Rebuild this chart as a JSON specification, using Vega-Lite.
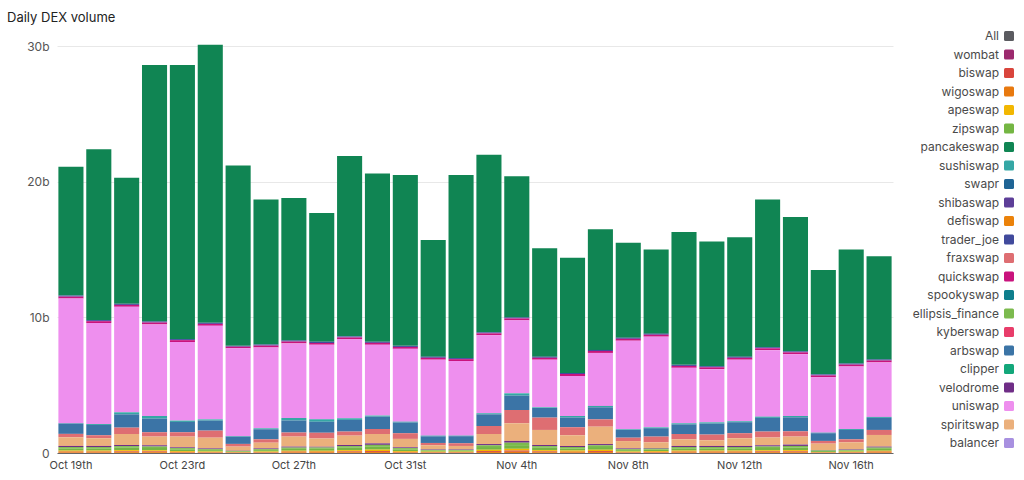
{
  "$schema": "https://vega.github.io/schema/vega-lite/v6.json",
  "width": 836,
  "height": 415,
  "autosize": {"type": "none"},
  "padding": {"left": 57, "top": 38, "right": 131, "bottom": 27},
  "background": "white",
  "title": {
    "text": "Daily DEX volume",
    "anchor": "start",
    "frame": "group",
    "dx": -50,
    "offset": 5,
    "fontSize": 13,
    "fontWeight": "normal",
    "color": "#222222"
  },
  "config": {
    "font": "Inter",
    "view": {"stroke": null}
  },
  "datasets": {
    "dex_ranks": [
      {"dex": "wigoswap", "rank": 1},
      {"dex": "biswap", "rank": 2},
      {"dex": "apeswap", "rank": 3},
      {"dex": "zipswap", "rank": 4},
      {"dex": "ellipsis_finance", "rank": 5},
      {"dex": "velodrome", "rank": 6},
      {"dex": "spiritswap", "rank": 7},
      {"dex": "fraxswap", "rank": 8},
      {"dex": "arbswap", "rank": 9},
      {"dex": "sushiswap", "rank": 10},
      {"dex": "uniswap", "rank": 11},
      {"dex": "quickswap", "rank": 12},
      {"dex": "trader_joe", "rank": 13},
      {"dex": "pancakeswap", "rank": 14}
    ]
  },
  "data": {
    "values": [
      {"date": "2022-10-19", "dex": "pancakeswap", "vol": 9.5},
      {"date": "2022-10-19", "dex": "trader_joe", "vol": 0.08},
      {"date": "2022-10-19", "dex": "quickswap", "vol": 0.14},
      {"date": "2022-10-19", "dex": "uniswap", "vol": 9.19},
      {"date": "2022-10-19", "dex": "sushiswap", "vol": 0.03},
      {"date": "2022-10-19", "dex": "arbswap", "vol": 0.76},
      {"date": "2022-10-19", "dex": "fraxswap", "vol": 0.25},
      {"date": "2022-10-19", "dex": "spiritswap", "vol": 0.64},
      {"date": "2022-10-19", "dex": "velodrome", "vol": 0.08},
      {"date": "2022-10-19", "dex": "ellipsis_finance", "vol": 0.10},
      {"date": "2022-10-19", "dex": "zipswap", "vol": 0.16},
      {"date": "2022-10-19", "dex": "apeswap", "vol": 0.08},
      {"date": "2022-10-19", "dex": "biswap", "vol": 0.05},
      {"date": "2022-10-19", "dex": "wigoswap", "vol": 0.05},

      {"date": "2022-10-20", "dex": "pancakeswap", "vol": 12.6},
      {"date": "2022-10-20", "dex": "trader_joe", "vol": 0.08},
      {"date": "2022-10-20", "dex": "quickswap", "vol": 0.14},
      {"date": "2022-10-20", "dex": "uniswap", "vol": 7.44},
      {"date": "2022-10-20", "dex": "sushiswap", "vol": 0.07},
      {"date": "2022-10-20", "dex": "arbswap", "vol": 0.76},
      {"date": "2022-10-20", "dex": "fraxswap", "vol": 0.22},
      {"date": "2022-10-20", "dex": "spiritswap", "vol": 0.57},
      {"date": "2022-10-20", "dex": "velodrome", "vol": 0.08},
      {"date": "2022-10-20", "dex": "ellipsis_finance", "vol": 0.10},
      {"date": "2022-10-20", "dex": "zipswap", "vol": 0.16},
      {"date": "2022-10-20", "dex": "apeswap", "vol": 0.08},
      {"date": "2022-10-20", "dex": "biswap", "vol": 0.05},
      {"date": "2022-10-20", "dex": "wigoswap", "vol": 0.05},

      {"date": "2022-10-21", "dex": "pancakeswap", "vol": 9.3},
      {"date": "2022-10-21", "dex": "trader_joe", "vol": 0.08},
      {"date": "2022-10-21", "dex": "quickswap", "vol": 0.14},
      {"date": "2022-10-21", "dex": "uniswap", "vol": 7.78},
      {"date": "2022-10-21", "dex": "sushiswap", "vol": 0.15},
      {"date": "2022-10-21", "dex": "arbswap", "vol": 0.98},
      {"date": "2022-10-21", "dex": "fraxswap", "vol": 0.47},
      {"date": "2022-10-21", "dex": "spiritswap", "vol": 0.81},
      {"date": "2022-10-21", "dex": "velodrome", "vol": 0.08},
      {"date": "2022-10-21", "dex": "ellipsis_finance", "vol": 0.12},
      {"date": "2022-10-21", "dex": "zipswap", "vol": 0.18},
      {"date": "2022-10-21", "dex": "apeswap", "vol": 0.09},
      {"date": "2022-10-21", "dex": "biswap", "vol": 0.06},
      {"date": "2022-10-21", "dex": "wigoswap", "vol": 0.06},

      {"date": "2022-10-22", "dex": "pancakeswap", "vol": 18.9},
      {"date": "2022-10-22", "dex": "trader_joe", "vol": 0.08},
      {"date": "2022-10-22", "dex": "quickswap", "vol": 0.14},
      {"date": "2022-10-22", "dex": "uniswap", "vol": 6.75},
      {"date": "2022-10-22", "dex": "sushiswap", "vol": 0.19},
      {"date": "2022-10-22", "dex": "arbswap", "vol": 1.01},
      {"date": "2022-10-22", "dex": "fraxswap", "vol": 0.32},
      {"date": "2022-10-22", "dex": "spiritswap", "vol": 0.64},
      {"date": "2022-10-22", "dex": "velodrome", "vol": 0.09},
      {"date": "2022-10-22", "dex": "ellipsis_finance", "vol": 0.11},
      {"date": "2022-10-22", "dex": "zipswap", "vol": 0.17},
      {"date": "2022-10-22", "dex": "apeswap", "vol": 0.08},
      {"date": "2022-10-22", "dex": "biswap", "vol": 0.06},
      {"date": "2022-10-22", "dex": "wigoswap", "vol": 0.06},

      {"date": "2022-10-23", "dex": "pancakeswap", "vol": 20.2},
      {"date": "2022-10-23", "dex": "trader_joe", "vol": 0.08},
      {"date": "2022-10-23", "dex": "quickswap", "vol": 0.14},
      {"date": "2022-10-23", "dex": "uniswap", "vol": 5.79},
      {"date": "2022-10-23", "dex": "sushiswap", "vol": 0.10},
      {"date": "2022-10-23", "dex": "arbswap", "vol": 0.76},
      {"date": "2022-10-23", "dex": "fraxswap", "vol": 0.32},
      {"date": "2022-10-23", "dex": "spiritswap", "vol": 0.79},
      {"date": "2022-10-23", "dex": "velodrome", "vol": 0.06},
      {"date": "2022-10-23", "dex": "ellipsis_finance", "vol": 0.09},
      {"date": "2022-10-23", "dex": "zipswap", "vol": 0.13},
      {"date": "2022-10-23", "dex": "apeswap", "vol": 0.06},
      {"date": "2022-10-23", "dex": "biswap", "vol": 0.04},
      {"date": "2022-10-23", "dex": "wigoswap", "vol": 0.04},

      {"date": "2022-10-24", "dex": "pancakeswap", "vol": 20.5},
      {"date": "2022-10-24", "dex": "trader_joe", "vol": 0.08},
      {"date": "2022-10-24", "dex": "quickswap", "vol": 0.14},
      {"date": "2022-10-24", "dex": "uniswap", "vol": 6.9},
      {"date": "2022-10-24", "dex": "sushiswap", "vol": 0.09},
      {"date": "2022-10-24", "dex": "arbswap", "vol": 0.74},
      {"date": "2022-10-24", "dex": "fraxswap", "vol": 0.52},
      {"date": "2022-10-24", "dex": "spiritswap", "vol": 0.79},
      {"date": "2022-10-24", "dex": "velodrome", "vol": 0.06},
      {"date": "2022-10-24", "dex": "ellipsis_finance", "vol": 0.07},
      {"date": "2022-10-24", "dex": "zipswap", "vol": 0.10},
      {"date": "2022-10-24", "dex": "apeswap", "vol": 0.05},
      {"date": "2022-10-24", "dex": "biswap", "vol": 0.03},
      {"date": "2022-10-24", "dex": "wigoswap", "vol": 0.03},

      {"date": "2022-10-25", "dex": "pancakeswap", "vol": 13.3},
      {"date": "2022-10-25", "dex": "trader_joe", "vol": 0.06},
      {"date": "2022-10-25", "dex": "quickswap", "vol": 0.12},
      {"date": "2022-10-25", "dex": "uniswap", "vol": 6.47},
      {"date": "2022-10-25", "dex": "sushiswap", "vol": 0.04},
      {"date": "2022-10-25", "dex": "arbswap", "vol": 0.54},
      {"date": "2022-10-25", "dex": "fraxswap", "vol": 0.2},
      {"date": "2022-10-25", "dex": "spiritswap", "vol": 0.3},
      {"date": "2022-10-25", "dex": "velodrome", "vol": 0.02},
      {"date": "2022-10-25", "dex": "ellipsis_finance", "vol": 0.03},
      {"date": "2022-10-25", "dex": "zipswap", "vol": 0.05},
      {"date": "2022-10-25", "dex": "apeswap", "vol": 0.03},
      {"date": "2022-10-25", "dex": "biswap", "vol": 0.02},
      {"date": "2022-10-25", "dex": "wigoswap", "vol": 0.02},

      {"date": "2022-10-26", "dex": "pancakeswap", "vol": 10.7},
      {"date": "2022-10-26", "dex": "trader_joe", "vol": 0.08},
      {"date": "2022-10-26", "dex": "quickswap", "vol": 0.14},
      {"date": "2022-10-26", "dex": "uniswap", "vol": 5.96},
      {"date": "2022-10-26", "dex": "sushiswap", "vol": 0.07},
      {"date": "2022-10-26", "dex": "arbswap", "vol": 0.74},
      {"date": "2022-10-26", "dex": "fraxswap", "vol": 0.25},
      {"date": "2022-10-26", "dex": "spiritswap", "vol": 0.42},
      {"date": "2022-10-26", "dex": "velodrome", "vol": 0.06},
      {"date": "2022-10-26", "dex": "ellipsis_finance", "vol": 0.07},
      {"date": "2022-10-26", "dex": "zipswap", "vol": 0.10},
      {"date": "2022-10-26", "dex": "apeswap", "vol": 0.05},
      {"date": "2022-10-26", "dex": "biswap", "vol": 0.03},
      {"date": "2022-10-26", "dex": "wigoswap", "vol": 0.03},

      {"date": "2022-10-27", "dex": "pancakeswap", "vol": 10.5},
      {"date": "2022-10-27", "dex": "trader_joe", "vol": 0.08},
      {"date": "2022-10-27", "dex": "quickswap", "vol": 0.14},
      {"date": "2022-10-27", "dex": "uniswap", "vol": 5.5},
      {"date": "2022-10-27", "dex": "sushiswap", "vol": 0.18},
      {"date": "2022-10-27", "dex": "arbswap", "vol": 0.89},
      {"date": "2022-10-27", "dex": "fraxswap", "vol": 0.3},
      {"date": "2022-10-27", "dex": "spiritswap", "vol": 0.74},
      {"date": "2022-10-27", "dex": "velodrome", "vol": 0.07},
      {"date": "2022-10-27", "dex": "ellipsis_finance", "vol": 0.09},
      {"date": "2022-10-27", "dex": "zipswap", "vol": 0.14},
      {"date": "2022-10-27", "dex": "apeswap", "vol": 0.07},
      {"date": "2022-10-27", "dex": "biswap", "vol": 0.05},
      {"date": "2022-10-27", "dex": "wigoswap", "vol": 0.05},

      {"date": "2022-10-28", "dex": "pancakeswap", "vol": 9.5},
      {"date": "2022-10-28", "dex": "trader_joe", "vol": 0.08},
      {"date": "2022-10-28", "dex": "quickswap", "vol": 0.14},
      {"date": "2022-10-28", "dex": "uniswap", "vol": 5.5},
      {"date": "2022-10-28", "dex": "sushiswap", "vol": 0.17},
      {"date": "2022-10-28", "dex": "arbswap", "vol": 0.81},
      {"date": "2022-10-28", "dex": "fraxswap", "vol": 0.44},
      {"date": "2022-10-28", "dex": "spiritswap", "vol": 0.59},
      {"date": "2022-10-28", "dex": "velodrome", "vol": 0.07},
      {"date": "2022-10-28", "dex": "ellipsis_finance", "vol": 0.09},
      {"date": "2022-10-28", "dex": "zipswap", "vol": 0.14},
      {"date": "2022-10-28", "dex": "apeswap", "vol": 0.07},
      {"date": "2022-10-28", "dex": "biswap", "vol": 0.05},
      {"date": "2022-10-28", "dex": "wigoswap", "vol": 0.05},

      {"date": "2022-10-29", "dex": "pancakeswap", "vol": 13.3},
      {"date": "2022-10-29", "dex": "trader_joe", "vol": 0.08},
      {"date": "2022-10-29", "dex": "quickswap", "vol": 0.14},
      {"date": "2022-10-29", "dex": "uniswap", "vol": 5.82},
      {"date": "2022-10-29", "dex": "sushiswap", "vol": 0.12},
      {"date": "2022-10-29", "dex": "arbswap", "vol": 0.86},
      {"date": "2022-10-29", "dex": "fraxswap", "vol": 0.3},
      {"date": "2022-10-29", "dex": "spiritswap", "vol": 0.69},
      {"date": "2022-10-29", "dex": "velodrome", "vol": 0.08},
      {"date": "2022-10-29", "dex": "ellipsis_finance", "vol": 0.12},
      {"date": "2022-10-29", "dex": "zipswap", "vol": 0.18},
      {"date": "2022-10-29", "dex": "apeswap", "vol": 0.09},
      {"date": "2022-10-29", "dex": "biswap", "vol": 0.06},
      {"date": "2022-10-29", "dex": "wigoswap", "vol": 0.06},

      {"date": "2022-10-30", "dex": "pancakeswap", "vol": 12.4},
      {"date": "2022-10-30", "dex": "trader_joe", "vol": 0.08},
      {"date": "2022-10-30", "dex": "quickswap", "vol": 0.14},
      {"date": "2022-10-30", "dex": "uniswap", "vol": 5.22},
      {"date": "2022-10-30", "dex": "sushiswap", "vol": 0.08},
      {"date": "2022-10-30", "dex": "arbswap", "vol": 0.91},
      {"date": "2022-10-30", "dex": "fraxswap", "vol": 0.37},
      {"date": "2022-10-30", "dex": "spiritswap", "vol": 0.69},
      {"date": "2022-10-30", "dex": "velodrome", "vol": 0.11},
      {"date": "2022-10-30", "dex": "ellipsis_finance", "vol": 0.14},
      {"date": "2022-10-30", "dex": "zipswap", "vol": 0.21},
      {"date": "2022-10-30", "dex": "apeswap", "vol": 0.11},
      {"date": "2022-10-30", "dex": "biswap", "vol": 0.07},
      {"date": "2022-10-30", "dex": "wigoswap", "vol": 0.07},

      {"date": "2022-10-31", "dex": "pancakeswap", "vol": 12.6},
      {"date": "2022-10-31", "dex": "trader_joe", "vol": 0.08},
      {"date": "2022-10-31", "dex": "quickswap", "vol": 0.14},
      {"date": "2022-10-31", "dex": "uniswap", "vol": 5.37},
      {"date": "2022-10-31", "dex": "sushiswap", "vol": 0.06},
      {"date": "2022-10-31", "dex": "arbswap", "vol": 0.79},
      {"date": "2022-10-31", "dex": "fraxswap", "vol": 0.42},
      {"date": "2022-10-31", "dex": "spiritswap", "vol": 0.62},
      {"date": "2022-10-31", "dex": "velodrome", "vol": 0.06},
      {"date": "2022-10-31", "dex": "ellipsis_finance", "vol": 0.09},
      {"date": "2022-10-31", "dex": "zipswap", "vol": 0.13},
      {"date": "2022-10-31", "dex": "apeswap", "vol": 0.06},
      {"date": "2022-10-31", "dex": "biswap", "vol": 0.04},
      {"date": "2022-10-31", "dex": "wigoswap", "vol": 0.04},

      {"date": "2022-11-01", "dex": "pancakeswap", "vol": 8.6},
      {"date": "2022-11-01", "dex": "trader_joe", "vol": 0.08},
      {"date": "2022-11-01", "dex": "quickswap", "vol": 0.14},
      {"date": "2022-11-01", "dex": "uniswap", "vol": 5.6},
      {"date": "2022-11-01", "dex": "sushiswap", "vol": 0.05},
      {"date": "2022-11-01", "dex": "arbswap", "vol": 0.49},
      {"date": "2022-11-01", "dex": "fraxswap", "vol": 0.17},
      {"date": "2022-11-01", "dex": "spiritswap", "vol": 0.3},
      {"date": "2022-11-01", "dex": "velodrome", "vol": 0.04},
      {"date": "2022-11-01", "dex": "ellipsis_finance", "vol": 0.05},
      {"date": "2022-11-01", "dex": "zipswap", "vol": 0.08},
      {"date": "2022-11-01", "dex": "apeswap", "vol": 0.04},
      {"date": "2022-11-01", "dex": "biswap", "vol": 0.03},
      {"date": "2022-11-01", "dex": "wigoswap", "vol": 0.03},

      {"date": "2022-11-02", "dex": "pancakeswap", "vol": 13.5},
      {"date": "2022-11-02", "dex": "trader_joe", "vol": 0.08},
      {"date": "2022-11-02", "dex": "quickswap", "vol": 0.14},
      {"date": "2022-11-02", "dex": "uniswap", "vol": 5.5},
      {"date": "2022-11-02", "dex": "sushiswap", "vol": 0.04},
      {"date": "2022-11-02", "dex": "arbswap", "vol": 0.52},
      {"date": "2022-11-02", "dex": "fraxswap", "vol": 0.2},
      {"date": "2022-11-02", "dex": "spiritswap", "vol": 0.25},
      {"date": "2022-11-02", "dex": "velodrome", "vol": 0.04},
      {"date": "2022-11-02", "dex": "ellipsis_finance", "vol": 0.05},
      {"date": "2022-11-02", "dex": "zipswap", "vol": 0.08},
      {"date": "2022-11-02", "dex": "apeswap", "vol": 0.04},
      {"date": "2022-11-02", "dex": "biswap", "vol": 0.03},
      {"date": "2022-11-02", "dex": "wigoswap", "vol": 0.03},

      {"date": "2022-11-03", "dex": "pancakeswap", "vol": 13.1},
      {"date": "2022-11-03", "dex": "trader_joe", "vol": 0.08},
      {"date": "2022-11-03", "dex": "quickswap", "vol": 0.14},
      {"date": "2022-11-03", "dex": "uniswap", "vol": 5.75},
      {"date": "2022-11-03", "dex": "sushiswap", "vol": 0.08},
      {"date": "2022-11-03", "dex": "arbswap", "vol": 0.86},
      {"date": "2022-11-03", "dex": "fraxswap", "vol": 0.59},
      {"date": "2022-11-03", "dex": "spiritswap", "vol": 0.74},
      {"date": "2022-11-03", "dex": "velodrome", "vol": 0.09},
      {"date": "2022-11-03", "dex": "ellipsis_finance", "vol": 0.13},
      {"date": "2022-11-03", "dex": "zipswap", "vol": 0.20},
      {"date": "2022-11-03", "dex": "apeswap", "vol": 0.10},
      {"date": "2022-11-03", "dex": "biswap", "vol": 0.07},
      {"date": "2022-11-03", "dex": "wigoswap", "vol": 0.07},

      {"date": "2022-11-04", "dex": "pancakeswap", "vol": 10.4},
      {"date": "2022-11-04", "dex": "trader_joe", "vol": 0.08},
      {"date": "2022-11-04", "dex": "quickswap", "vol": 0.14},
      {"date": "2022-11-04", "dex": "uniswap", "vol": 5.38},
      {"date": "2022-11-04", "dex": "sushiswap", "vol": 0.17},
      {"date": "2022-11-04", "dex": "arbswap", "vol": 1.06},
      {"date": "2022-11-04", "dex": "fraxswap", "vol": 0.98},
      {"date": "2022-11-04", "dex": "spiritswap", "vol": 1.3},
      {"date": "2022-11-04", "dex": "velodrome", "vol": 0.13},
      {"date": "2022-11-04", "dex": "ellipsis_finance", "vol": 0.18},
      {"date": "2022-11-04", "dex": "zipswap", "vol": 0.27},
      {"date": "2022-11-04", "dex": "apeswap", "vol": 0.13},
      {"date": "2022-11-04", "dex": "biswap", "vol": 0.09},
      {"date": "2022-11-04", "dex": "wigoswap", "vol": 0.09},

      {"date": "2022-11-05", "dex": "pancakeswap", "vol": 8.0},
      {"date": "2022-11-05", "dex": "trader_joe", "vol": 0.08},
      {"date": "2022-11-05", "dex": "quickswap", "vol": 0.14},
      {"date": "2022-11-05", "dex": "uniswap", "vol": 3.51},
      {"date": "2022-11-05", "dex": "sushiswap", "vol": 0.05},
      {"date": "2022-11-05", "dex": "arbswap", "vol": 0.71},
      {"date": "2022-11-05", "dex": "fraxswap", "vol": 0.91},
      {"date": "2022-11-05", "dex": "spiritswap", "vol": 1.11},
      {"date": "2022-11-05", "dex": "velodrome", "vol": 0.08},
      {"date": "2022-11-05", "dex": "ellipsis_finance", "vol": 0.12},
      {"date": "2022-11-05", "dex": "zipswap", "vol": 0.18},
      {"date": "2022-11-05", "dex": "apeswap", "vol": 0.09},
      {"date": "2022-11-05", "dex": "biswap", "vol": 0.06},
      {"date": "2022-11-05", "dex": "wigoswap", "vol": 0.06},

      {"date": "2022-11-06", "dex": "pancakeswap", "vol": 8.5},
      {"date": "2022-11-06", "dex": "trader_joe", "vol": 0.08},
      {"date": "2022-11-06", "dex": "quickswap", "vol": 0.14},
      {"date": "2022-11-06", "dex": "uniswap", "vol": 2.95},
      {"date": "2022-11-06", "dex": "sushiswap", "vol": 0.12},
      {"date": "2022-11-06", "dex": "arbswap", "vol": 0.71},
      {"date": "2022-11-06", "dex": "fraxswap", "vol": 0.59},
      {"date": "2022-11-06", "dex": "spiritswap", "vol": 0.79},
      {"date": "2022-11-06", "dex": "velodrome", "vol": 0.08},
      {"date": "2022-11-06", "dex": "ellipsis_finance", "vol": 0.10},
      {"date": "2022-11-06", "dex": "zipswap", "vol": 0.16},
      {"date": "2022-11-06", "dex": "apeswap", "vol": 0.08},
      {"date": "2022-11-06", "dex": "biswap", "vol": 0.05},
      {"date": "2022-11-06", "dex": "wigoswap", "vol": 0.05},

      {"date": "2022-11-07", "dex": "pancakeswap", "vol": 8.9},
      {"date": "2022-11-07", "dex": "trader_joe", "vol": 0.08},
      {"date": "2022-11-07", "dex": "quickswap", "vol": 0.14},
      {"date": "2022-11-07", "dex": "uniswap", "vol": 3.91},
      {"date": "2022-11-07", "dex": "sushiswap", "vol": 0.10},
      {"date": "2022-11-07", "dex": "arbswap", "vol": 0.89},
      {"date": "2022-11-07", "dex": "fraxswap", "vol": 0.54},
      {"date": "2022-11-07", "dex": "spiritswap", "vol": 1.28},
      {"date": "2022-11-07", "dex": "velodrome", "vol": 0.09},
      {"date": "2022-11-07", "dex": "ellipsis_finance", "vol": 0.13},
      {"date": "2022-11-07", "dex": "zipswap", "vol": 0.20},
      {"date": "2022-11-07", "dex": "apeswap", "vol": 0.10},
      {"date": "2022-11-07", "dex": "biswap", "vol": 0.07},
      {"date": "2022-11-07", "dex": "wigoswap", "vol": 0.07},

      {"date": "2022-11-08", "dex": "pancakeswap", "vol": 7.0},
      {"date": "2022-11-08", "dex": "trader_joe", "vol": 0.08},
      {"date": "2022-11-08", "dex": "quickswap", "vol": 0.14},
      {"date": "2022-11-08", "dex": "uniswap", "vol": 6.53},
      {"date": "2022-11-08", "dex": "sushiswap", "vol": 0.05},
      {"date": "2022-11-08", "dex": "arbswap", "vol": 0.57},
      {"date": "2022-11-08", "dex": "fraxswap", "vol": 0.25},
      {"date": "2022-11-08", "dex": "spiritswap", "vol": 0.54},
      {"date": "2022-11-08", "dex": "velodrome", "vol": 0.06},
      {"date": "2022-11-08", "dex": "ellipsis_finance", "vol": 0.07},
      {"date": "2022-11-08", "dex": "zipswap", "vol": 0.10},
      {"date": "2022-11-08", "dex": "apeswap", "vol": 0.05},
      {"date": "2022-11-08", "dex": "biswap", "vol": 0.03},
      {"date": "2022-11-08", "dex": "wigoswap", "vol": 0.03},

      {"date": "2022-11-09", "dex": "pancakeswap", "vol": 6.2},
      {"date": "2022-11-09", "dex": "trader_joe", "vol": 0.08},
      {"date": "2022-11-09", "dex": "quickswap", "vol": 0.14},
      {"date": "2022-11-09", "dex": "uniswap", "vol": 6.69},
      {"date": "2022-11-09", "dex": "sushiswap", "vol": 0.06},
      {"date": "2022-11-09", "dex": "arbswap", "vol": 0.62},
      {"date": "2022-11-09", "dex": "fraxswap", "vol": 0.42},
      {"date": "2022-11-09", "dex": "spiritswap", "vol": 0.42},
      {"date": "2022-11-09", "dex": "velodrome", "vol": 0.05},
      {"date": "2022-11-09", "dex": "ellipsis_finance", "vol": 0.07},
      {"date": "2022-11-09", "dex": "zipswap", "vol": 0.11},
      {"date": "2022-11-09", "dex": "apeswap", "vol": 0.06},
      {"date": "2022-11-09", "dex": "biswap", "vol": 0.04},
      {"date": "2022-11-09", "dex": "wigoswap", "vol": 0.04},

      {"date": "2022-11-10", "dex": "pancakeswap", "vol": 9.8},
      {"date": "2022-11-10", "dex": "trader_joe", "vol": 0.08},
      {"date": "2022-11-10", "dex": "quickswap", "vol": 0.14},
      {"date": "2022-11-10", "dex": "uniswap", "vol": 4.09},
      {"date": "2022-11-10", "dex": "sushiswap", "vol": 0.08},
      {"date": "2022-11-10", "dex": "arbswap", "vol": 0.71},
      {"date": "2022-11-10", "dex": "fraxswap", "vol": 0.39},
      {"date": "2022-11-10", "dex": "spiritswap", "vol": 0.49},
      {"date": "2022-11-10", "dex": "velodrome", "vol": 0.08},
      {"date": "2022-11-10", "dex": "ellipsis_finance", "vol": 0.10},
      {"date": "2022-11-10", "dex": "zipswap", "vol": 0.16},
      {"date": "2022-11-10", "dex": "apeswap", "vol": 0.08},
      {"date": "2022-11-10", "dex": "biswap", "vol": 0.05},
      {"date": "2022-11-10", "dex": "wigoswap", "vol": 0.05},

      {"date": "2022-11-11", "dex": "pancakeswap", "vol": 9.2},
      {"date": "2022-11-11", "dex": "trader_joe", "vol": 0.08},
      {"date": "2022-11-11", "dex": "quickswap", "vol": 0.14},
      {"date": "2022-11-11", "dex": "uniswap", "vol": 3.92},
      {"date": "2022-11-11", "dex": "sushiswap", "vol": 0.09},
      {"date": "2022-11-11", "dex": "arbswap", "vol": 0.81},
      {"date": "2022-11-11", "dex": "fraxswap", "vol": 0.42},
      {"date": "2022-11-11", "dex": "spiritswap", "vol": 0.42},
      {"date": "2022-11-11", "dex": "velodrome", "vol": 0.08},
      {"date": "2022-11-11", "dex": "ellipsis_finance", "vol": 0.10},
      {"date": "2022-11-11", "dex": "zipswap", "vol": 0.16},
      {"date": "2022-11-11", "dex": "apeswap", "vol": 0.08},
      {"date": "2022-11-11", "dex": "biswap", "vol": 0.05},
      {"date": "2022-11-11", "dex": "wigoswap", "vol": 0.05},

      {"date": "2022-11-12", "dex": "pancakeswap", "vol": 8.8},
      {"date": "2022-11-12", "dex": "trader_joe", "vol": 0.08},
      {"date": "2022-11-12", "dex": "quickswap", "vol": 0.14},
      {"date": "2022-11-12", "dex": "uniswap", "vol": 4.54},
      {"date": "2022-11-12", "dex": "sushiswap", "vol": 0.07},
      {"date": "2022-11-12", "dex": "arbswap", "vol": 0.81},
      {"date": "2022-11-12", "dex": "fraxswap", "vol": 0.37},
      {"date": "2022-11-12", "dex": "spiritswap", "vol": 0.57},
      {"date": "2022-11-12", "dex": "velodrome", "vol": 0.08},
      {"date": "2022-11-12", "dex": "ellipsis_finance", "vol": 0.10},
      {"date": "2022-11-12", "dex": "zipswap", "vol": 0.16},
      {"date": "2022-11-12", "dex": "apeswap", "vol": 0.08},
      {"date": "2022-11-12", "dex": "biswap", "vol": 0.05},
      {"date": "2022-11-12", "dex": "wigoswap", "vol": 0.05},

      {"date": "2022-11-13", "dex": "pancakeswap", "vol": 10.9},
      {"date": "2022-11-13", "dex": "trader_joe", "vol": 0.08},
      {"date": "2022-11-13", "dex": "quickswap", "vol": 0.14},
      {"date": "2022-11-13", "dex": "uniswap", "vol": 4.9},
      {"date": "2022-11-13", "dex": "sushiswap", "vol": 0.09},
      {"date": "2022-11-13", "dex": "arbswap", "vol": 1.01},
      {"date": "2022-11-13", "dex": "fraxswap", "vol": 0.44},
      {"date": "2022-11-13", "dex": "spiritswap", "vol": 0.57},
      {"date": "2022-11-13", "dex": "velodrome", "vol": 0.09},
      {"date": "2022-11-13", "dex": "ellipsis_finance", "vol": 0.11},
      {"date": "2022-11-13", "dex": "zipswap", "vol": 0.17},
      {"date": "2022-11-13", "dex": "apeswap", "vol": 0.08},
      {"date": "2022-11-13", "dex": "biswap", "vol": 0.06},
      {"date": "2022-11-13", "dex": "wigoswap", "vol": 0.06},

      {"date": "2022-11-14", "dex": "pancakeswap", "vol": 9.9},
      {"date": "2022-11-14", "dex": "trader_joe", "vol": 0.08},
      {"date": "2022-11-14", "dex": "quickswap", "vol": 0.14},
      {"date": "2022-11-14", "dex": "uniswap", "vol": 4.55},
      {"date": "2022-11-14", "dex": "sushiswap", "vol": 0.10},
      {"date": "2022-11-14", "dex": "arbswap", "vol": 1.03},
      {"date": "2022-11-14", "dex": "fraxswap", "vol": 0.39},
      {"date": "2022-11-14", "dex": "spiritswap", "vol": 0.59},
      {"date": "2022-11-14", "dex": "velodrome", "vol": 0.10},
      {"date": "2022-11-14", "dex": "ellipsis_finance", "vol": 0.12},
      {"date": "2022-11-14", "dex": "zipswap", "vol": 0.19},
      {"date": "2022-11-14", "dex": "apeswap", "vol": 0.09},
      {"date": "2022-11-14", "dex": "biswap", "vol": 0.06},
      {"date": "2022-11-14", "dex": "wigoswap", "vol": 0.06},

      {"date": "2022-11-15", "dex": "pancakeswap", "vol": 7.7},
      {"date": "2022-11-15", "dex": "trader_joe", "vol": 0.08},
      {"date": "2022-11-15", "dex": "quickswap", "vol": 0.14},
      {"date": "2022-11-15", "dex": "uniswap", "vol": 4.08},
      {"date": "2022-11-15", "dex": "sushiswap", "vol": 0.04},
      {"date": "2022-11-15", "dex": "arbswap", "vol": 0.57},
      {"date": "2022-11-15", "dex": "fraxswap", "vol": 0.2},
      {"date": "2022-11-15", "dex": "spiritswap", "vol": 0.47},
      {"date": "2022-11-15", "dex": "velodrome", "vol": 0.03},
      {"date": "2022-11-15", "dex": "ellipsis_finance", "vol": 0.05},
      {"date": "2022-11-15", "dex": "zipswap", "vol": 0.07},
      {"date": "2022-11-15", "dex": "apeswap", "vol": 0.03},
      {"date": "2022-11-15", "dex": "biswap", "vol": 0.02},
      {"date": "2022-11-15", "dex": "wigoswap", "vol": 0.02},

      {"date": "2022-11-16", "dex": "pancakeswap", "vol": 8.4},
      {"date": "2022-11-16", "dex": "trader_joe", "vol": 0.08},
      {"date": "2022-11-16", "dex": "quickswap", "vol": 0.14},
      {"date": "2022-11-16", "dex": "uniswap", "vol": 4.61},
      {"date": "2022-11-16", "dex": "sushiswap", "vol": 0.07},
      {"date": "2022-11-16", "dex": "arbswap", "vol": 0.69},
      {"date": "2022-11-16", "dex": "fraxswap", "vol": 0.22},
      {"date": "2022-11-16", "dex": "spiritswap", "vol": 0.52},
      {"date": "2022-11-16", "dex": "velodrome", "vol": 0.04},
      {"date": "2022-11-16", "dex": "ellipsis_finance", "vol": 0.05},
      {"date": "2022-11-16", "dex": "zipswap", "vol": 0.08},
      {"date": "2022-11-16", "dex": "apeswap", "vol": 0.04},
      {"date": "2022-11-16", "dex": "biswap", "vol": 0.03},
      {"date": "2022-11-16", "dex": "wigoswap", "vol": 0.03},

      {"date": "2022-11-17", "dex": "pancakeswap", "vol": 7.6},
      {"date": "2022-11-17", "dex": "trader_joe", "vol": 0.08},
      {"date": "2022-11-17", "dex": "quickswap", "vol": 0.14},
      {"date": "2022-11-17", "dex": "uniswap", "vol": 4.02},
      {"date": "2022-11-17", "dex": "sushiswap", "vol": 0.07},
      {"date": "2022-11-17", "dex": "arbswap", "vol": 0.89},
      {"date": "2022-11-17", "dex": "fraxswap", "vol": 0.37},
      {"date": "2022-11-17", "dex": "spiritswap", "vol": 0.86},
      {"date": "2022-11-17", "dex": "velodrome", "vol": 0.07},
      {"date": "2022-11-17", "dex": "ellipsis_finance", "vol": 0.09},
      {"date": "2022-11-17", "dex": "zipswap", "vol": 0.14},
      {"date": "2022-11-17", "dex": "apeswap", "vol": 0.07},
      {"date": "2022-11-17", "dex": "biswap", "vol": 0.05},
      {"date": "2022-11-17", "dex": "wigoswap", "vol": 0.05}
    ]
  },
  "transform": [
    {"lookup": "dex", "from": {"data": {"name": "dex_ranks"}, "key": "dex", "fields": ["rank"]}}
  ],
  "mark": {"type": "bar"},
  "encoding": {
    "x": {
      "field": "date",
      "type": "ordinal",
      "title": null,
      "scale": {"paddingInner": 0.1, "paddingOuter": 0.05},
      "axis": {
        "values": ["2022-10-19", "2022-10-23", "2022-10-27", "2022-10-31", "2022-11-04", "2022-11-08", "2022-11-12", "2022-11-16"],
        "labelAngle": 0,
        "ticks": false,
        "domainColor": "#666666",
        "labelColor": "#444444",
        "labelFontSize": 11,
        "labelPadding": 6,
        "labelExpr": "utcFormat(toDate(datum.value), '%b %-d') + (indexof([1, 21, 31], utcdate(toDate(datum.value))) >= 0 ? 'st' : indexof([2, 22], utcdate(toDate(datum.value))) >= 0 ? 'nd' : indexof([3, 23], utcdate(toDate(datum.value))) >= 0 ? 'rd' : 'th')"
      }
    },
    "y": {
      "field": "vol",
      "type": "quantitative",
      "stack": "zero",
      "title": null,
      "scale": {"domain": [0, 30.6], "nice": false},
      "axis": {
        "values": [0, 10, 20, 30],
        "domain": false,
        "ticks": false,
        "gridColor": "#e8e8e8",
        "labelColor": "#555555",
        "labelFontSize": 12,
        "labelPadding": 8,
        "labelExpr": "datum.value == 0 ? '0' : datum.value + 'b'"
      }
    },
    "color": {
      "field": "dex",
      "type": "nominal",
      "scale": {
        "domain": ["All", "wombat", "biswap", "wigoswap", "apeswap", "zipswap", "pancakeswap", "sushiswap", "swapr", "shibaswap", "defiswap", "trader_joe", "fraxswap", "quickswap", "spookyswap", "ellipsis_finance", "kyberswap", "arbswap", "clipper", "velodrome", "uniswap", "spiritswap", "balancer"],
        "range": ["#5b5b60", "#9c2a6e", "#d9453c", "#e8790f", "#f2b701", "#74b643", "#108553", "#35a7a5", "#1f6495", "#5d3e98", "#eb820a", "#414a9c", "#de6e72", "#c9137d", "#0e7e8c", "#7cba4e", "#e83d6a", "#3b74a6", "#13a77a", "#6f2d86", "#ee8fee", "#ebb07c", "#a890e0"]
      },
      "legend": {
        "title": null,
        "orient": "none",
        "legendX": 946,
        "legendY": -8,
        "labelAlign": "right",
        "labelOffset": -16,
        "symbolType": "M -0.7 -1 H 0.7 Q 1 -1 1 -0.7 V 0.7 Q 1 1 0.7 1 H -0.7 Q -1 1 -1 0.7 V -0.7 Q -1 -1 -0.7 -1 Z",
        "symbolSize": 100,
        "symbolStrokeWidth": 0,
        "labelFontSize": 12,
        "labelColor": "#4a4a4a",
        "labelLimit": 200,
        "rowPadding": 6.5
      }
    },
    "order": {"field": "rank", "type": "quantitative", "sort": "ascending"}
  }
}
